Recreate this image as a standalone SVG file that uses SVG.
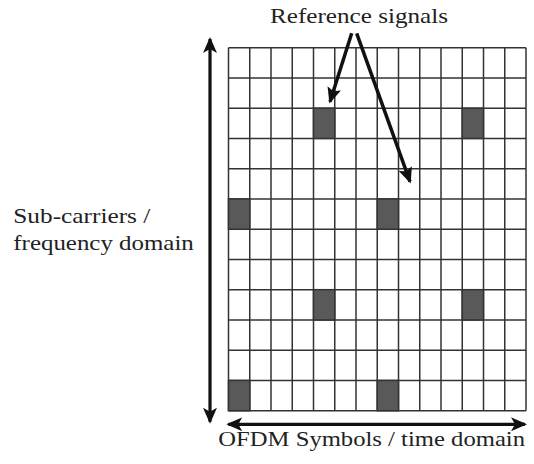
<svg xmlns="http://www.w3.org/2000/svg" width="534" height="464" viewBox="0 0 534 464">
  <style>
    .lbl { font-family: "Liberation Serif", "Times New Roman", serif; font-size: 22px; fill: #222; }
    .grid line { stroke: #333; stroke-width: 1.5; }
    .rs { fill: #595959; stroke: #333; stroke-width: 1.5; }
    .axis { stroke: #111; stroke-width: 3.2; fill: none; }
    .ptr { stroke: #111; stroke-width: 3.5; fill: none; }
  </style>
  <defs>
    <marker id="barb" viewBox="0 0 16 14" refX="14" refY="7" markerWidth="16" markerHeight="14" markerUnits="userSpaceOnUse" orient="auto-start-reverse">
      <path d="M0,0 L16,7 L0,14 L4,7 Z" fill="#111"/>
    </marker>
    <marker id="ptrhead" viewBox="0 0 16 14" refX="14" refY="7" markerWidth="16" markerHeight="14" markerUnits="userSpaceOnUse" orient="auto">
      <path d="M0,0 L16,7 L0,14 L3,7 Z" fill="#111"/>
    </marker>
  </defs>
  <rect width="534" height="464" fill="#fff"/>

  <!-- time-frequency resource grid: 14 symbols x 12 sub-carriers -->
  <g id="grid" class="grid">
    <rect x="228.5" y="47.7" width="297.5" height="363" fill="#fff"/>
    <line x1="228.5" y1="47.7" x2="228.5" y2="410.7"/>
    <line x1="249.75" y1="47.7" x2="249.75" y2="410.7"/>
    <line x1="271" y1="47.7" x2="271" y2="410.7"/>
    <line x1="292.25" y1="47.7" x2="292.25" y2="410.7"/>
    <line x1="313.5" y1="47.7" x2="313.5" y2="410.7"/>
    <line x1="334.75" y1="47.7" x2="334.75" y2="410.7"/>
    <line x1="356" y1="47.7" x2="356" y2="410.7"/>
    <line x1="377.25" y1="47.7" x2="377.25" y2="410.7"/>
    <line x1="398.5" y1="47.7" x2="398.5" y2="410.7"/>
    <line x1="419.75" y1="47.7" x2="419.75" y2="410.7"/>
    <line x1="441" y1="47.7" x2="441" y2="410.7"/>
    <line x1="462.25" y1="47.7" x2="462.25" y2="410.7"/>
    <line x1="483.5" y1="47.7" x2="483.5" y2="410.7"/>
    <line x1="504.75" y1="47.7" x2="504.75" y2="410.7"/>
    <line x1="526" y1="47.7" x2="526" y2="410.7"/>
    <line x1="228.5" y1="47.7" x2="526" y2="47.7"/>
    <line x1="228.5" y1="77.95" x2="526" y2="77.95"/>
    <line x1="228.5" y1="108.2" x2="526" y2="108.2"/>
    <line x1="228.5" y1="138.45" x2="526" y2="138.45"/>
    <line x1="228.5" y1="168.7" x2="526" y2="168.7"/>
    <line x1="228.5" y1="198.95" x2="526" y2="198.95"/>
    <line x1="228.5" y1="229.2" x2="526" y2="229.2"/>
    <line x1="228.5" y1="259.45" x2="526" y2="259.45"/>
    <line x1="228.5" y1="289.7" x2="526" y2="289.7"/>
    <line x1="228.5" y1="319.95" x2="526" y2="319.95"/>
    <line x1="228.5" y1="350.2" x2="526" y2="350.2"/>
    <line x1="228.5" y1="380.45" x2="526" y2="380.45"/>
    <line x1="228.5" y1="410.7" x2="526" y2="410.7"/>
  </g>

  <!-- reference signal resource elements -->
  <g id="reference-cells">
    <rect class="rs" x="313.5" y="108.2" width="21.25" height="30.25"/>
    <rect class="rs" x="462.25" y="108.2" width="21.25" height="30.25"/>
    <rect class="rs" x="228.5" y="198.95" width="21.25" height="30.25"/>
    <rect class="rs" x="377.25" y="198.95" width="21.25" height="30.25"/>
    <rect class="rs" x="313.5" y="289.7" width="21.25" height="30.25"/>
    <rect class="rs" x="462.25" y="289.7" width="21.25" height="30.25"/>
    <rect class="rs" x="228.5" y="380.45" width="21.25" height="30.25"/>
    <rect class="rs" x="377.25" y="380.45" width="21.25" height="30.25"/>
  </g>

  <g id="label-reference">
    <text class="lbl" x="270" y="23" textLength="178" lengthAdjust="spacingAndGlyphs">Reference signals</text>
  </g>
  <g id="label-frequency">
    <text class="lbl" x="13.3" y="223" textLength="137" lengthAdjust="spacingAndGlyphs">Sub-carriers /</text>
    <text class="lbl" x="13.3" y="250" textLength="180.5" lengthAdjust="spacingAndGlyphs">frequency domain</text>
  </g>
  <g id="label-time">
    <text class="lbl" x="218.3" y="446" textLength="306.7" lengthAdjust="spacingAndGlyphs">OFDM Symbols / time domain</text>
  </g>

  <!-- connectors: pointers and axis arrows -->
  <g id="connectors">
    <line class="ptr" x1="351.7" y1="33.3" x2="330" y2="101.7" marker-end="url(#ptrhead)"/>
    <line class="ptr" x1="356.7" y1="33.3" x2="410" y2="181.7" marker-end="url(#ptrhead)"/>
    <line class="axis" x1="210" y1="39" x2="210" y2="421.7" marker-start="url(#barb)" marker-end="url(#barb)"/>
    <line class="axis" x1="228.3" y1="424.3" x2="525" y2="424.3" marker-start="url(#barb)" marker-end="url(#barb)"/>
  </g>
</svg>
